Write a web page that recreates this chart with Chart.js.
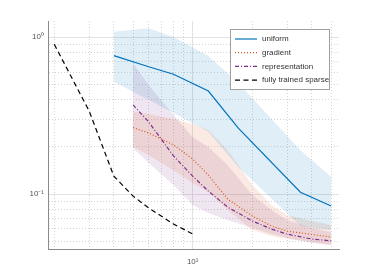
<!DOCTYPE html>
<html>
<head>
<meta charset="utf-8">
<script src="https://cdn.jsdelivr.net/npm/chart.js@4/dist/chart.umd.min.js"></script>
<style>
  html, body { margin: 0; padding: 0; background: #fff; }
  #wrap { width: 374px; height: 280px; }
</style>
</head>
<body>
<div id="wrap"><canvas id="c" width="374" height="280"></canvas></div>
<script>
// ---- data ----
const xUniform = [4, 6, 8, 12, 17, 35, 50];
const uniformMean  = [0.763, 0.649, 0.581, 0.454, 0.263, 0.1026, 0.0838];
const uniformUpper = [1.085, 1.14, 1.003, 0.76, 0.51, 0.19, 0.129];
const uniformLower = [0.521, 0.398, 0.329, 0.25, 0.149, 0.0625, 0.059];

const xPruned = [5, 6, 8, 10, 12, 15, 20, 25, 30, 40, 50];
const gradientMean  = [0.265, 0.245, 0.206, 0.167, 0.132, 0.093, 0.0724, 0.0625, 0.058, 0.0552, 0.0532];
const gradientUpper = [0.335, 0.324, 0.301, 0.280, 0.256, 0.191, 0.114, 0.0851, 0.0735, 0.0673, 0.0634];
const gradientLower = [0.200, 0.177, 0.142, 0.1175, 0.103, 0.0791, 0.0589, 0.0540, 0.0516, 0.0494, 0.0473];

const reprMean  = [0.370, 0.288, 0.175, 0.130, 0.1045, 0.0826, 0.0673, 0.0598, 0.0555, 0.0516, 0.0503];
const reprUpper = [0.683, 0.496, 0.319, 0.231, 0.1995, 0.153, 0.0986, 0.0791, 0.0683, 0.0607, 0.0572];
const reprLower = [0.196, 0.158, 0.114, 0.0851, 0.0757, 0.0683, 0.0607, 0.0555, 0.0524, 0.0487, 0.0473];

const xSparse = [2, 3, 4, 5, 6, 8, 10];
const sparseMean = [0.902, 0.339, 0.130, 0.097, 0.0814, 0.0644, 0.0556];

const xTicks = [2, 3, 4, 5, 6, 7, 8, 9, 10, 20, 30, 40, 50];
const yTicks = [0.05, 0.06, 0.07, 0.08, 0.09, 0.1, 0.2, 0.3, 0.4, 0.5, 0.6, 0.7, 0.8, 0.9, 1];
const tickNames = { 1: '10⁰', 0.1: '10⁻¹', 10: '10¹' };

const pts = (xs, ys) => xs.map((x, i) => ({ x, y: ys[i] }));
const isDecade = v => Math.abs(Math.log10(v) - Math.round(Math.log10(v))) < 1e-9;

// bands: upper filled down to next dataset (lower)
function band(xs, up, lo, color) {
    return [
        { data: pts(xs, up), borderWidth: 0, pointRadius: 0, fill: '+1', backgroundColor: color, order: 2 },
        { data: pts(xs, lo), borderWidth: 0, pointRadius: 0, fill: false, order: 2 },
    ];
}
function line(label, xs, ys, color, dash, width) {
    return { legendLabel: label, data: pts(xs, ys), borderColor: color, borderWidth: width,
             borderDash: dash, pointRadius: 0, fill: false, tension: 0, order: 0 };
}

const datasets = [
    ...band(xUniform, uniformUpper, uniformLower, 'rgba(0,114,189,0.12)'),
    ...band(xPruned, gradientUpper, gradientLower, 'rgba(217,83,25,0.12)'),
    ...band(xPruned, reprUpper, reprLower, 'rgba(126,47,142,0.12)'),
    line('uniform', xUniform, uniformMean, '#0072BD', [], 1.2),
    line('gradient', xPruned, gradientMean, '#D95319', [1, 2], 1.2),
    line('representation', xPruned, reprMean, '#7E2F8E', [4, 2, 1, 2], 1.2),
    line('fully trained sparse', xSparse, sparseMean, '#000000', [5, 3.5], 1.2),
];

// ============ legend box (drawn by hand, matlab style) ============
const boxLegend = {
    id: 'boxLegend',
    afterDraw(chart) {
        const ctx = chart.ctx;
        const items = chart.data.datasets.filter(d => d.legendLabel);
        const x0 = 230.5, y0 = 29.5, w = 99, h = 60;
        ctx.save();
        ctx.fillStyle = '#fff';
        ctx.fillRect(x0, y0, w, h);
        ctx.strokeStyle = '#a0a0a0';
        ctx.lineWidth = 1;
        ctx.strokeRect(x0, y0, w, h);
        ctx.font = '8px "Liberation Sans", Arial, sans-serif';
        ctx.textBaseline = 'middle';
        items.forEach((d, i) => {
            const yy = 39 + i * 13.7;
            ctx.beginPath();
            ctx.setLineDash(d.borderDash);
            ctx.strokeStyle = d.borderColor;
            ctx.lineWidth = d.borderWidth;
            ctx.moveTo(235, yy);
            ctx.lineTo(257, yy);
            ctx.stroke();
            ctx.setLineDash([]);
            ctx.fillStyle = '#333';
            ctx.fillText(d.legendLabel, 262, yy);
        });
        ctx.restore();
    }
};

const gridOf = () => ({
    color: c => isDecade(c.tick.value) ? '#e2e2e2' : '#d4d4d4',
    lineWidth: 1,
    drawTicks: false,
});
const borderOf = () => ({
    display: true, color: '#8a8a8a', width: 1,
    dash: c => (c.tick && isDecade(c.tick.value)) ? [] : [1, 2],
});

new Chart(document.getElementById('c'), {
    type: 'line',
    data: { datasets },
    options: {
        responsive: false,
        animation: false,
        devicePixelRatio: 1,
        layout: { padding: { left: 0, right: 35, top: 21, bottom: 0 } },
        plugins: { legend: { display: false }, tooltip: { enabled: false } },
        scales: {
            x: {
                type: 'logarithmic', min: 1.86, max: 54.8,
                afterBuildTicks: s => { s.ticks = xTicks.map(v => ({ value: v, major: isDecade(v) })); },
                afterFit: s => { s.height = 31; },
                grid: gridOf(), border: borderOf(),
                ticks: {
                    autoSkip: false, maxRotation: 0, padding: 8, color: '#555',
                    font: { family: '"Liberation Sans", Arial, sans-serif', size: 8 },
                    callback: v => tickNames[v] || '',
                },
            },
            y: {
                type: 'logarithmic', min: 0.0446, max: 1.27,
                afterBuildTicks: s => { s.ticks = yTicks.map(v => ({ value: v, major: isDecade(v) })); },
                afterFit: s => { s.width = 48; },
                grid: gridOf(), border: borderOf(),
                ticks: {
                    autoSkip: false, padding: 4, color: '#555',
                    font: { family: '"Liberation Sans", Arial, sans-serif', size: 8 },
                    callback: v => tickNames[v] || '',
                },
            },
        },
    },
    plugins: [boxLegend],
});
</script>
</body>
</html>
